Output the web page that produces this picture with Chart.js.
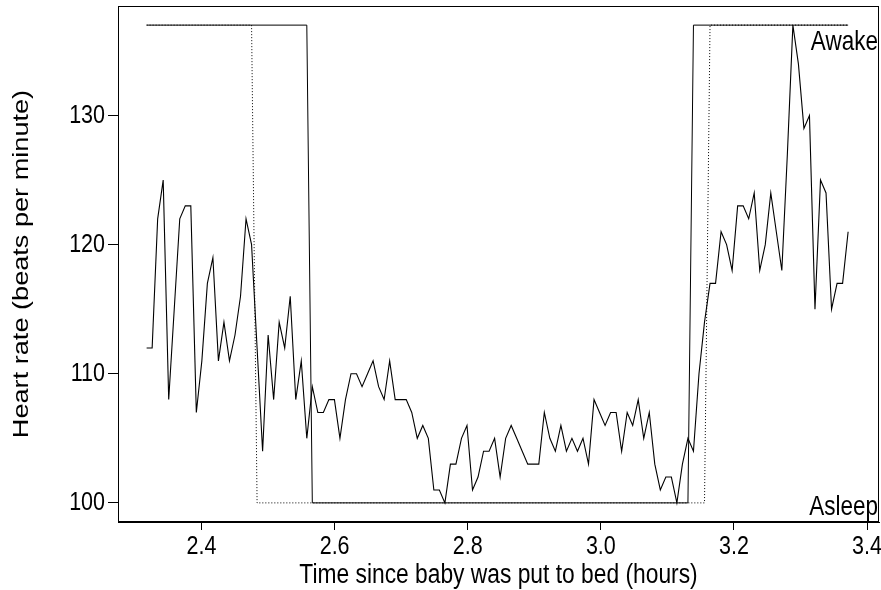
<!DOCTYPE html>
<html><head><meta charset="utf-8">
<script src="https://cdn.jsdelivr.net/npm/chart.js@4.4.0/dist/chart.umd.min.js"></script>
<style>html,body{margin:0;padding:0;background:#fff}#wrap{width:881px;height:590px}</style>
</head><body><div id="wrap"><canvas id="c" width="881" height="590"></canvas></div>
<script>
// Time since baby was put to bed (hours), one reading every ~30 s
const times = [
2.3175,2.3258,2.3341,2.3424,2.3507,2.3590,2.3673,2.3756,2.3839,2.3922,
2.4005,2.4088,2.4171,2.4254,2.4337,2.4420,2.4503,2.4586,2.4669,2.4752,
2.4835,2.4918,2.5001,2.5084,2.5167,2.5250,2.5333,2.5416,2.5499,2.5582,
2.5665,2.5748,2.5831,2.5914,2.5997,2.6080,2.6163,2.6246,2.6329,2.6412,
2.6495,2.6578,2.6661,2.6744,2.6827,2.6910,2.6993,2.7076,2.7159,2.7242,
2.7325,2.7408,2.7491,2.7574,2.7657,2.7740,2.7823,2.7906,2.7989,2.8072,
2.8155,2.8238,2.8321,2.8404,2.8487,2.8570,2.8653,2.8736,2.8819,2.8902,
2.8985,2.9068,2.9151,2.9234,2.9317,2.9400,2.9483,2.9566,2.9649,2.9732,
2.9815,2.9898,2.9981,3.0064,3.0147,3.0230,3.0313,3.0396,3.0479,3.0562,
3.0645,3.0728,3.0811,3.0894,3.0977,3.1060,3.1143,3.1226,3.1309,3.1392,
3.1475,3.1558,3.1641,3.1724,3.1807,3.1890,3.1973,3.2056,3.2139,3.2222,
3.2305,3.2388,3.2471,3.2554,3.2637,3.2720,3.2803,3.2886,3.2969,3.3052,
3.3135,3.3218,3.3301,3.3384,3.3467,3.3550,3.3633,3.3716
];
// Heart rate (beats per minute)
const heartRate = [
112,112,122,125,108,115,122,123,123,107,
111,117,119,111,114,111,113,116,122,120,
112,104,113,108,114,112,116,108,111,105,
109,107,107,108,108,105,108,110,110,109,
110,111,109,108,111,108,108,108,107,105,
106,105,101,101,100,103,103,105,106,101,
102,104,104,105,102,105,106,105,104,103,
103,103,107,105,104,106,104,105,104,105,
103,108,107,106,107,107,104,107,106,108,
105,107,103,101,102,102,100,103,105,104,
110,114,117,117,121,120,118,123,123,122,
124,118,120,124,121,118,127,137,134,129,
130,115,125,124,115,117,117,121
];
// Sleep state (solid line): vertices of the step trace
const stateSolidTimes  = [2.3175, 2.5582, 2.5665, 3.1309, 3.1392, 3.3716];
const stateSolidLevels = [137, 137, 100, 100, 137, 137];
// Sleep state (dotted line)
const stateDottedTimes  = [2.3175, 2.4752, 2.4835, 3.1558, 3.1641, 3.3716];
const stateDottedLevels = [137, 137, 100, 100, 137, 137];
// State labels
const stateLabels = ['Awake', 'Asleep'];
const stateLabelLevels = [137, 100];
// Tick labels
const xTicks = [2.4, 2.6, 2.8, 3.0, 3.2, 3.4];
const yTicks = [100, 110, 120, 130];
const xTitle = 'Time since baby was put to bed (hours)';
const yTitle = 'Heart rate (beats per minute)';

const FONT = "'Liberation Sans', Arial, Helvetica, sans-serif";
const SV = 1.19;          // vertical stretch of the lettering
const pts = (xs, ys) => xs.map((x, i) => ({x: x, y: ys[i]}));

function txt(ctx, s, x, y, size, align, rot) {
  ctx.save();
  ctx.translate(x, y);
  ctx.scale(1, SV);
  if (rot) ctx.rotate(rot);
  ctx.font = size + 'px ' + FONT;
  ctx.textAlign = align;
  ctx.textBaseline = 'middle';
  ctx.fillStyle = '#000';
  ctx.fillText(s, 0, 0);
  ctx.restore();
}

const boxPlugin = {
  id: 'box',
  afterDraw(chart) {
    const {ctx, chartArea: a, scales} = chart;
    ctx.save();
    ctx.strokeStyle = '#000';
    ctx.lineWidth = 1;
    ctx.strokeRect(Math.round(a.left) + 0.5, Math.round(a.top) + 0.5,
                   Math.round(a.right - a.left) - 1, Math.round(a.bottom - a.top) - 1);
    ctx.restore();
    xTicks.forEach(v => txt(ctx, v.toFixed(1), scales.x.getPixelForValue(v), a.bottom + 25, 21.5, 'center'));
    yTicks.forEach(v => txt(ctx, String(v), a.left - 13, scales.y.getPixelForValue(v), 21.5, 'right'));
    txt(ctx, xTitle, (a.left + a.right) / 2, a.bottom + 54, 22.8, 'center');
    txt(ctx, yTitle, 22, (a.top + a.bottom) / 2, 22.8, 'center', -Math.PI / 2);
    const offs = [18, 5];
    stateLabels.forEach((t, i) => {
      txt(ctx, t, a.right - 1, scales.y.getPixelForValue(stateLabelLevels[i]) + offs[i], 22.5, 'right');
    });
  }
};

new Chart(document.getElementById('c'), {
  type: 'line',
  data: {
    datasets: [
      {data: pts(times, heartRate), borderColor: '#000', borderWidth: 1.1, pointRadius: 0, tension: 0},
      {data: pts(stateSolidTimes, stateSolidLevels), borderColor: '#000', borderWidth: 1, pointRadius: 0, tension: 0},
      {data: pts(stateDottedTimes, stateDottedLevels), borderColor: '#000', borderWidth: 1, borderDash: [1, 2], pointRadius: 0, tension: 0}
    ]
  },
  options: {
    responsive: false,
    devicePixelRatio: 1,
    animation: false,
    layout: {padding: {top: 6, right: 2, left: 0, bottom: 0}},
    plugins: {legend: {display: false}, tooltip: {enabled: false}},
    scales: {
      x: {
        type: 'linear', min: 2.2745, max: 3.418,
        afterBuildTicks: s => { s.ticks = xTicks.map(v => ({value: v})); },
        afterFit: s => { s.height = 68; s.paddingLeft = 0; s.paddingRight = 0; },
        ticks: {color: 'rgba(0,0,0,0)', font: {family: FONT, size: 20}, padding: 6, maxRotation: 0, autoSkip: false},
        grid: {drawOnChartArea: false, drawTicks: true, tickLength: 8, tickColor: '#000'},
        border: {display: true, color: '#000'}
      },
      y: {
        type: 'linear', min: 98.52, max: 138.48,
        afterBuildTicks: s => { s.ticks = yTicks.map(v => ({value: v})); },
        afterFit: s => { s.width = 118; s.paddingTop = 0; s.paddingBottom = 0; },
        ticks: {color: 'rgba(0,0,0,0)', font: {family: FONT, size: 20}, padding: 3, autoSkip: false},
        grid: {drawOnChartArea: false, drawTicks: true, tickLength: 10, tickColor: '#000'},
        border: {display: true, color: '#000'}
      }
    }
  },
  plugins: [boxPlugin]
});
</script>
</body></html>
